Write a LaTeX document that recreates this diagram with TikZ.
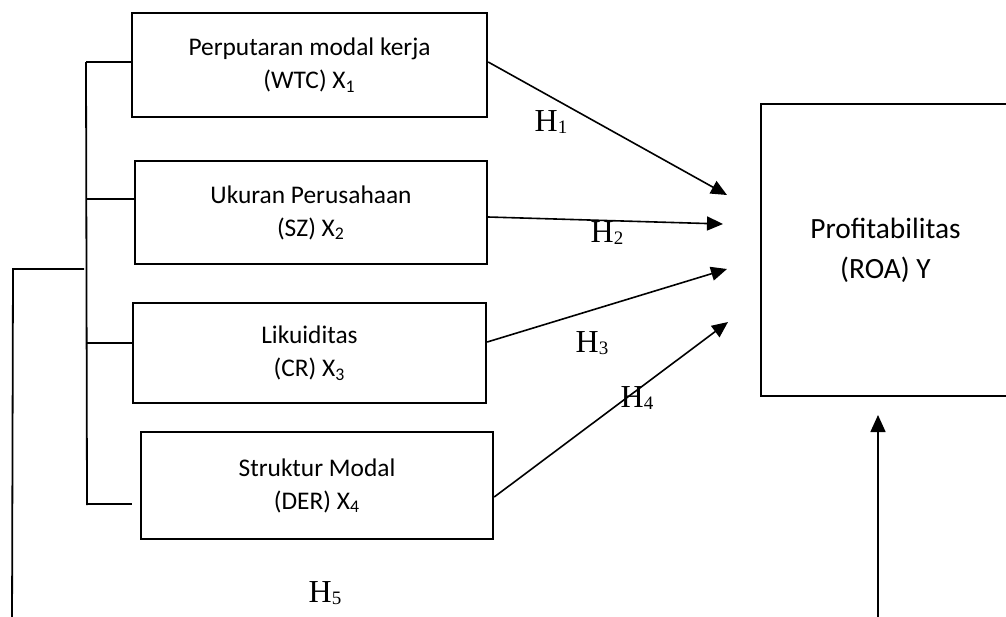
\documentclass[tikz,border=0pt]{standalone}
\usepackage{fontspec}
\setmainfont{Carlito}
\newfontfamily\hfont{Liberation Serif}
\usetikzlibrary{calc}
\usetikzlibrary{arrows.meta}
\newcommand{\hsub}[1]{\raisebox{-1pt}{\fontsize{9.5}{10}\selectfont #1}}

\begin{document}
\begin{tikzpicture}[x=0.5pt,y=-0.5pt]
  % some styles
  \tikzset{
    varbox/.style={
      rectangle,
      draw=black,
      line width=1.2pt,
      inner sep=0mm,
      align=center,
      font=\fontsize{12.7}{16.5}\selectfont
    }
  }
  \tikzset{link/.style={line width=0.8pt,-{Triangle[length=8pt,width=7pt]}}}
  \tikzset{hlabel/.style={font=\hfont\fontsize{16}{19}\selectfont,inner sep=0pt}}
  \tikzset{bracket/.style={line width=0.9pt}}

  \useasboundingbox (0,0) rectangle (1006,616);
  \clip (0,0) rectangle (1006,616);

  % variables
  \node[varbox,minimum width=177.5pt,minimum height=52pt] (x1) at (309.5,65) {Perputaran modal kerja\\(WTC) X\textsubscript{1}};
  \node[varbox,minimum width=176pt,minimum height=51.5pt] (x2) at (311,212.5) {Ukuran Perusahaan\\(SZ) X\textsubscript{2}};
  \node[varbox,minimum width=176.5pt,minimum height=50pt] (x3) at (309.5,353) {Likuiditas\\(CR) X\textsubscript{3}};
  \node[varbox,minimum width=176pt,minimum height=53.5pt] (x4) at (317,485.5) {Struktur Modal\\(DER) X\textsubscript{4}};
  \node[varbox,minimum width=124.5pt,minimum height=146pt,font=\fontsize{14.7}{20}\selectfont] (y) at (885.5,250) {Profitabilitas\\(ROA) Y};

  % bracket
  \coordinate (t0) at (86,62);
  \coordinate (tb) at (87,505);
  \draw[bracket] (t0) -- (tb);
  \foreach \n/\yy in {1/62,2/199,3/343} {
    \coordinate (t\n) at (86,\yy);
    \draw[bracket] (t\n) -- (t\n -| x\n.west);
  }
  \coordinate (t4) at (87,504);
  \draw[bracket] (t4) -- ([xshift=-4pt]t4 -| x4.west);

  \coordinate (j) at (84,269);
  \coordinate (c) at (13,269);
  \coordinate (cb) at (12,630);
  \draw[bracket] (j) -- (c) -- (cb);

  % partial links
  \coordinate (e1) at (727,195);
  \coordinate (e2) at (723,224);
  \coordinate (e3) at (727,269);
  \coordinate (e4) at (728,322);
  \draw[link] ([yshift=1.5pt]x1.east) -- (e1);
  \draw[link] ([yshift=-2.25pt]x2.east) -- (e2);
  \draw[link] ([yshift=5.5pt]x3.east) -- (e3);
  \draw[link] ([yshift=-5.75pt]x4.east) -- (e4);

  % simultaneous link
  \coordinate (ab) at (878,630);
  \coordinate (ai) at (878,415);
  \draw[link,-{Triangle[length=8.5pt,width=7.5pt]}] (ab) -- (ai);

  % hypotheses
  \node[hlabel] (h1) at (551,122) {H\hsub{1}};
  \node[hlabel] (h2) at (607,233) {H\hsub{2}};
  \node[hlabel] (h3) at (592,343) {H\hsub{3}};
  \node[hlabel] (h4) at (637,398) {H\hsub{4}};
  \node[hlabel] (h5) at (325,593) {H\hsub{5}};

\end{tikzpicture}
\end{document}
